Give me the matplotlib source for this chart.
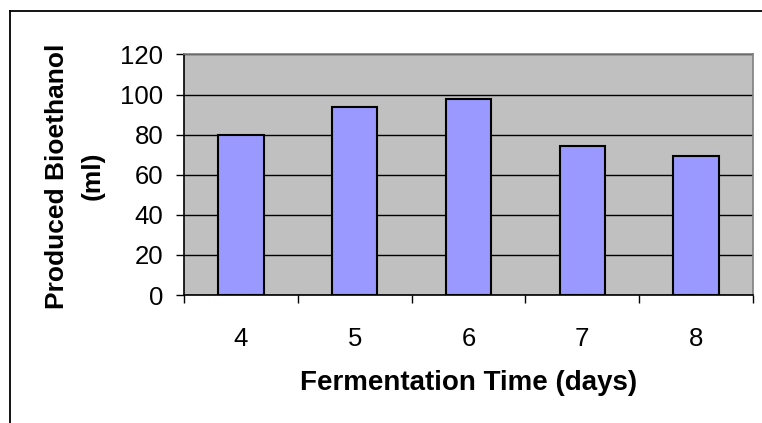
import matplotlib
matplotlib.use("Agg")
import matplotlib.pyplot as plt
from matplotlib.lines import Line2D

plt.rcParams['font.family'] = ['Liberation Sans', 'DejaVu Sans']

# data
days = ['4', '5', '6', '7', '8']
ethanol = [80, 94, 98, 74.3, 69.2]
y_ticks = [0, 20, 40, 60, 80, 100, 120]

W, H = 762, 423
fig = plt.figure(figsize=(W / 100, H / 100), dpi=100)

# axes placed where the plot area sits in the picture
left, right, top, bottom = 184, 753, 54.5, 295
ax = fig.add_axes([left / W, 1 - bottom / H, (right - left) / W, (bottom - top) / H])
ax.set_facecolor('#C0C0C0')

x = list(range(len(days)))
ax.bar(x, ethanol, width=0.4, color='#9999FF', edgecolor='black', linewidth=1.5, zorder=3)

ax.set_xlim(-0.5, len(days) - 0.5)
ax.set_ylim(0, 120)
ax.set_yticks(y_ticks)
ax.set_yticklabels([str(v) for v in y_ticks], fontsize=18.5)
ax.yaxis.grid(True, color='black', linewidth=1.0, zorder=1)
ax.set_axisbelow(True)

# category labels centered, tick marks on category boundaries
ax.set_xticks(x)
ax.set_xticklabels(days, fontsize=18.5)
ax.set_xticks([i - 0.5 for i in range(len(days) + 1)], minor=True)
ax.tick_params(axis='x', which='major', length=0, pad=23)
ax.tick_params(axis='x', which='minor', length=6, width=1, direction='out', color='black')
ax.tick_params(axis='y', length=6, width=1, direction='out', pad=9, color='black')

ax.spines['left'].set_color('black')
ax.spines['bottom'].set_color('black')
ax.spines['top'].set_color('#808080')
ax.spines['right'].set_color('#808080')
for s in ax.spines.values():
    s.set_linewidth(1.2)

fig.text(469 / W, 1 - 383 / H, 'Fermentation Time (days)', fontsize=20,
         fontweight='bold', ha='center', va='center')
fig.text(75 / W, 1 - 176 / H, 'Produced Bioethanol\n(ml)', fontsize=19,
         fontweight='bold', ha='center', va='center', rotation=90,
         multialignment='center', linespacing=1.6)

# outer chart frame (top and left edges visible)
fig.add_artist(Line2D([10 / W, 1], [1 - 11 / H, 1 - 11 / H], transform=fig.transFigure,
                      color='black', linewidth=1.3))
fig.add_artist(Line2D([10 / W, 10 / W], [0, 1 - 11 / H], transform=fig.transFigure,
                      color='black', linewidth=1.3))

fig.savefig('out.png', dpi=100)
